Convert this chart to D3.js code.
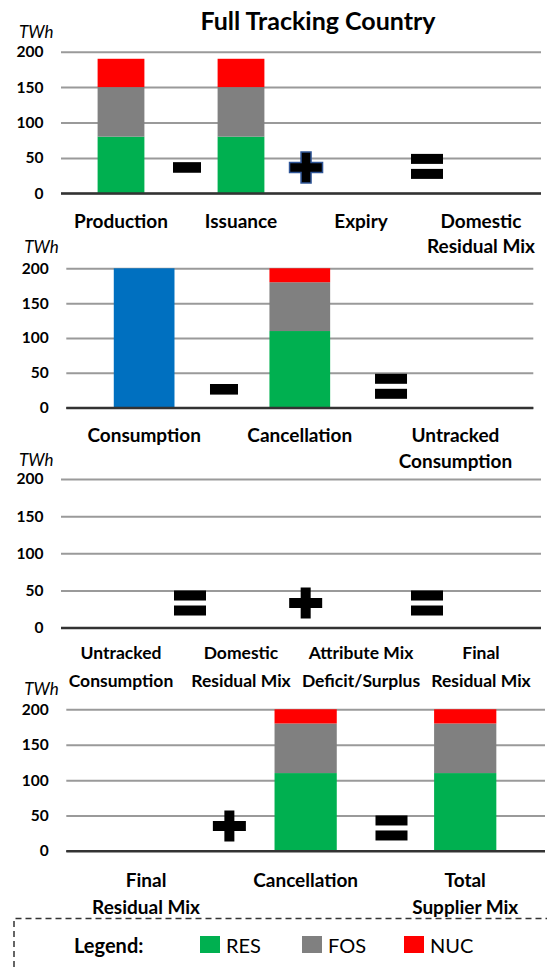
<!DOCTYPE html>
<html>
<head>
<meta charset="utf-8">
<script src="https://cdn.jsdelivr.net/npm/d3@7"></script>
<style>
  html, body { margin: 0; padding: 0; background: #fff; }
  svg { display: block; font-family: Lato, "Open Sans", sans-serif; }
</style>
</head>
<body>
<svg id="chart" width="547" height="967"></svg>
<script>
// ---- Data (TWh) ----
const yTicks = [0, 50, 100, 150, 200];
const seriesKeys = ["RES", "FOS", "NUC", "CONS"];
const legendKeys = ["RES", "FOS", "NUC"];

// Step 1: production → residual mix
const cats1 = ["Production", "Issuance", "Expiry", "Domestic\nResidual Mix"];
const res1 = [80, 80, 0, 0];
const fos1 = [70, 70, 0, 0];
const nuc1 = [40, 40, 0, 0];
const cons1 = [0, 0, 0, 0];

// Step 2: consumption → untracked consumption
const cats2 = ["Consumption", "Cancellation", "Untracked\nConsumption"];
const res2 = [0, 110, 0];
const fos2 = [0, 70, 0];
const nuc2 = [0, 20, 0];
const cons2 = [200, 0, 0];

// Step 3: final residual mix
const cats3 = ["Untracked\nConsumption", "Domestic\nResidual Mix", "Attribute Mix\nDeficit/Surplus", "Final\nResidual Mix"];
const res3 = [0, 0, 0, 0];
const fos3 = [0, 0, 0, 0];
const nuc3 = [0, 0, 0, 0];
const cons3 = [0, 0, 0, 0];

// Step 4: total supplier mix
const cats4 = ["Final\nResidual Mix", "Cancellation", "Total\nSupplier Mix"];
const res4 = [0, 110, 110];
const fos4 = [0, 70, 70];
const nuc4 = [0, 20, 20];
const cons4 = [0, 0, 0];

// ---- Styling ----
const colors = { RES: "#00B050", FOS: "#808080", NUC: "#FF0000", CONS: "#0070C0" };
const svg = d3.select("#chart");

svg.append("text")
  .attr("x", 318).attr("y", 20)
  .attr("text-anchor", "middle").attr("dominant-baseline", "central")
  .attr("font-size", 25).attr("font-weight", 700).attr("fill", "#000")
  .text("Full Tracking Country");

// Panel frames; operators sit between categories (pos in band steps, y in TWh)
const panels = [
  { cats: cats1, res: res1, fos: fos1, nuc: nuc1, cons: cons1, labelSize: 19,
    left: 61, right: 541, top: 51.7, bottom: 193.3, labelDy: 26.7, lineGap: 25, unitDy: -20,
    ops: [{ s: "-", pos: 1.05, v: 36.5 }, { s: "+", pos: 2.042, v: 36.5, outline: true }, { s: "=", pos: 3.05, v: 38 }] },
  { cats: cats2, res: res2, fos: fos2, nuc: nuc2, cons: cons2, labelSize: 19,
    left: 66.3, right: 533.3, top: 268.3, bottom: 407.7, labelDy: 26.3, lineGap: 26, unitDy: -21.6,
    ops: [{ s: "-", pos: 1.013, v: 26.4 }, { s: "=", pos: 2.086, v: 30.7 }] },
  { cats: cats3, res: res3, fos: fos3, nuc: nuc3, cons: cons3, labelSize: 17.5,
    left: 61, right: 541, top: 479, bottom: 627.7, labelDy: 25, lineGap: 27.3, unitDy: -19.5,
    ops: [{ s: "=", pos: 1.075, v: 33.2 }, { s: "+", pos: 2.039, v: 33.2 }, { s: "=", pos: 3.05, v: 33.2 }] },
  { cats: cats4, res: res4, fos: fos4, nuc: nuc4, cons: cons4, labelSize: 19,
    left: 66.3, right: 545, top: 709.3, bottom: 851, labelDy: 28, lineGap: 27, unitDy: -21,
    ops: [{ s: "+", pos: 1.022, v: 35.3 }, { s: "=", pos: 2.038, v: 32.5 }] }
];

panels.forEach(p => {
  const g = svg.append("g");
  const x = d3.scaleBand().domain(p.cats).range([p.left, p.right])
    .paddingInner(0.61).paddingOuter(0.305);
  const y = d3.scaleLinear().domain([0, 200]).range([p.bottom, p.top]);
  const step = x.step();

  // gridlines + tick labels
  const axis = g.append("g")
    .attr("transform", `translate(${p.left},0)`)
    .call(d3.axisLeft(y).tickValues(yTicks).tickSize(-(p.right - p.left)).tickPadding(17.5));
  axis.select(".domain").remove();
  axis.selectAll(".tick line")
    .attr("stroke", d => d === 0 ? "#333" : "#9a9a9a")
    .attr("stroke-width", 2);
  axis.selectAll(".tick text")
    .attr("font-family", "Lato, sans-serif")
    .attr("font-size", 15.5).attr("font-weight", 700).attr("fill", "#000");

  // unit label
  g.append("text")
    .attr("x", p.left - 42).attr("y", p.top + p.unitDy)
    .attr("dominant-baseline", "central")
    .attr("font-size", 17).attr("font-style", "italic").attr("fill", "#000")
    .text("TWh");

  // stacked bars
  const rows = p.cats.map((c, i) => ({ cat: c, RES: p.res[i], FOS: p.fos[i], NUC: p.nuc[i], CONS: p.cons[i] }));
  const stacked = d3.stack().keys(seriesKeys)(rows);
  g.append("g").selectAll("g").data(stacked).join("g")
    .attr("fill", d => colors[d.key])
    .selectAll("rect").data(d => d.filter(s => s[1] > s[0])).join("rect")
    .attr("x", d => x(d.data.cat))
    .attr("width", x.bandwidth())
    .attr("y", d => y(d[1]))
    .attr("height", d => y(d[0]) - y(d[1]));

  // redraw zero line above bars
  g.append("line")
    .attr("x1", p.left).attr("x2", p.right)
    .attr("y1", y(0)).attr("y2", y(0))
    .attr("stroke", "#333").attr("stroke-width", 2);

  // category labels
  p.cats.forEach(c => {
    const t = g.append("text")
      .attr("text-anchor", "middle")
      .attr("font-size", p.labelSize).attr("font-weight", 700).attr("fill", "#000");
    c.split("\n").forEach((line, k) => {
      t.append("tspan")
        .attr("x", x(c) + x.bandwidth() / 2)
        .attr("y", y(0) + p.labelDy + k * p.lineGap)
        .attr("dominant-baseline", "central")
        .text(line);
    });
  });

  // arithmetic operators between steps
  p.ops.forEach(o => {
    const cx = p.left + o.pos * step;
    const cy = y(o.v);
    if (o.s === "-") {
      g.append("rect").attr("x", cx - 14).attr("y", cy - 5.3).attr("width", 28).attr("height", 10.6).attr("fill", "#000");
    } else if (o.s === "=") {
      g.append("rect").attr("x", cx - 16).attr("y", cy - 12.5).attr("width", 32).attr("height", 10).attr("fill", "#000");
      g.append("rect").attr("x", cx - 16).attr("y", cy + 2.5).attr("width", 32).attr("height", 10).attr("fill", "#000");
    } else {
      const w = 16.5, h = 15.5, a = 5;
      const path = `M${cx - a},${cy - h}H${cx + a}V${cy - a}H${cx + w}V${cy + a}H${cx + a}V${cy + h}H${cx - a}V${cy + a}H${cx - w}V${cy - a}H${cx - a}Z`;
      g.append("path").attr("d", path).attr("fill", "#000")
        .attr("stroke", o.outline ? "#2F5597" : "none").attr("stroke-width", 1.5);
    }
  });
});

// ---- Legend ----
const lg = svg.append("g");
lg.append("path")
  .attr("d", "M14,967V918.5H547")
  .attr("fill", "none").attr("stroke", "#333").attr("stroke-width", 1.5)
  .attr("stroke-dasharray", "6,4");
lg.append("text")
  .attr("x", 74).attr("y", 945).attr("dominant-baseline", "central")
  .attr("font-size", 20).attr("font-weight", 700).attr("fill", "#000")
  .text("Legend:");
const legendX = d3.scalePoint().domain(legendKeys).range([200, 404]);
const items = lg.selectAll("g.item").data(legendKeys).join("g").attr("class", "item")
  .attr("transform", d => `translate(${legendX(d)},0)`);
items.append("rect").attr("x", 0).attr("y", 936).attr("width", 20).attr("height", 17)
  .attr("fill", d => colors[d]);
items.append("text").attr("x", 26).attr("y", 945).attr("dominant-baseline", "central")
  .attr("font-size", 20).attr("fill", "#000").text(d => d);
</script>
</body>
</html>
